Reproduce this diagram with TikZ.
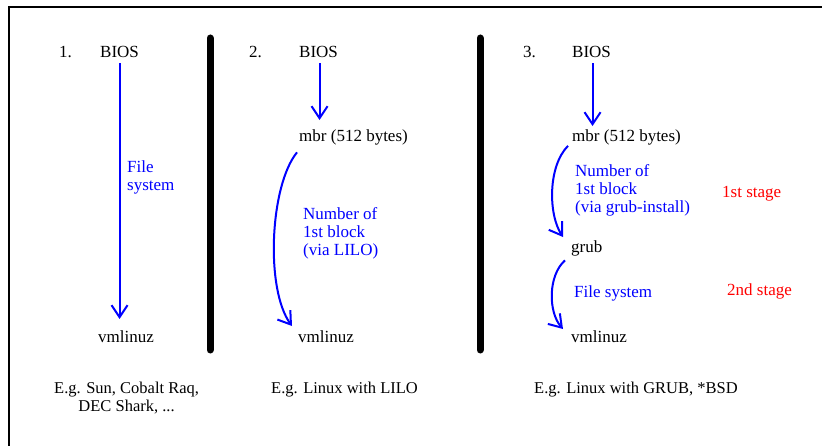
\documentclass[tikz,border=0pt]{standalone}
\usepackage{fontspec}
\setmainfont{Liberation Serif}
\usetikzlibrary{arrows.meta}
\definecolor{pblue}{RGB}{0,0,255}
\definecolor{pred}{RGB}{255,0,0}
\tikzset{
  txt/.style={anchor=base west, inner sep=0pt, font=\fontsize{17}{18}\selectfont},
  captxt/.style={anchor=base west, inner sep=0pt, font=\fontsize{16.5}{18}\selectfont},
  lbl/.style={txt, text=pblue},
  stg/.style={txt, text=pred},
  arr/.style={draw=pblue, line width=2pt, -{Straight Barb[length=12pt,width=16pt]}},
  sepbar/.style={line width=7pt, line cap=round},
  framel/.style={line width=2pt}
}
\begin{document}
\begin{tikzpicture}[x=1pt,y=-1pt]
\useasboundingbox (0,0) rectangle (822,446);
\fill[white] (0,0) rectangle (822,446);
% frame
\draw[framel] (9,447) -- (9,7) -- (823,7);
% separators
\draw[sepbar] (210,38) -- (210,350);
\draw[sepbar] (480,38) -- (480,350);

% panel 1
\node[txt] (n1) at (59,58) {1.};
\node[txt] (bios1) at (100,58) {BIOS};
\node[txt] (vm1) at (98,342) {vmlinuz};
\node[lbl] (l1a) at (127,173) {File};
\node[lbl] (l1b) at (127,191) {system};
\draw[arr] ([yshift=-5pt]bios1.south) -- ([yshift=11pt]bios1.south |- vm1.north);

% panel 2
\node[txt] (n2) at (249,58) {2.};
\node[txt] (bios2) at (299,58) {BIOS};
\node[txt] (mbr2) at (299,142) {mbr (512 bytes)};
\node[txt] (vm2) at (298,342) {vmlinuz};
\node[lbl] (l2a) at (303,220) {Number of};
\node[lbl] (l2b) at (303,238) {1st block};
\node[lbl] (l2c) at (303,256) {(via LILO)};
\draw[arr] ([xshift=1pt,yshift=-5pt]bios2.south) -- ([xshift=1pt,yshift=10pt]bios2.south |- mbr2.north);
\draw[arr] ([xshift=-2pt,yshift=-6.5pt]mbr2.south west) .. controls +(-27,33) and +(-27,-37) .. ([xshift=-6pt,yshift=4pt]vm2.north west);

% panel 3
\node[txt] (n3) at (523,58) {3.};
\node[txt] (bios3) at (572,58) {BIOS};
\node[txt] (mbr3) at (572,142) {mbr (512 bytes)};
\node[lbl] (l3a) at (575,177) {Number of};
\node[lbl] (l3b) at (575,195) {1st block};
\node[lbl] (l3c) at (575,213) {(via grub-install)};
\node[stg] (s1) at (722,198) {1st stage};
\node[txt] (grub) at (571,253) {grub};
\node[lbl] (l3d) at (574,298) {File system};
\node[stg] (s2) at (727,296) {2nd stage};
\node[txt] (vm3) at (571,342) {vmlinuz};
\draw[arr] ([xshift=1pt,yshift=-5pt]bios3.south) -- ([xshift=1pt,yshift=4pt]bios3.south |- mbr3.north);
\draw[arr] ([xshift=-4pt,yshift=0pt]mbr3.south west) .. controls +(-20,20) and +(-15,-23) .. ([xshift=-8pt,yshift=4pt]grub.north west);
\draw[arr] ([xshift=-6pt,yshift=-3.5pt]grub.south west) .. controls +(-17,15) and +(-15,-17) .. ([xshift=-8pt,yshift=1pt]vm3.north west);

% bottom captions
\node[captxt] (e1a) at (54,393) {E.g. Sun, Cobalt Raq,};
\node[captxt, anchor=base] (e1b) at (e1a.base |- 0,411) {DEC Shark, ...};
\node[captxt] (e2) at (271,393) {E.g. Linux with LILO};
\node[captxt] (e3) at (534,393) {E.g. Linux with GRUB, *BSD};
\end{tikzpicture}
\end{document}
